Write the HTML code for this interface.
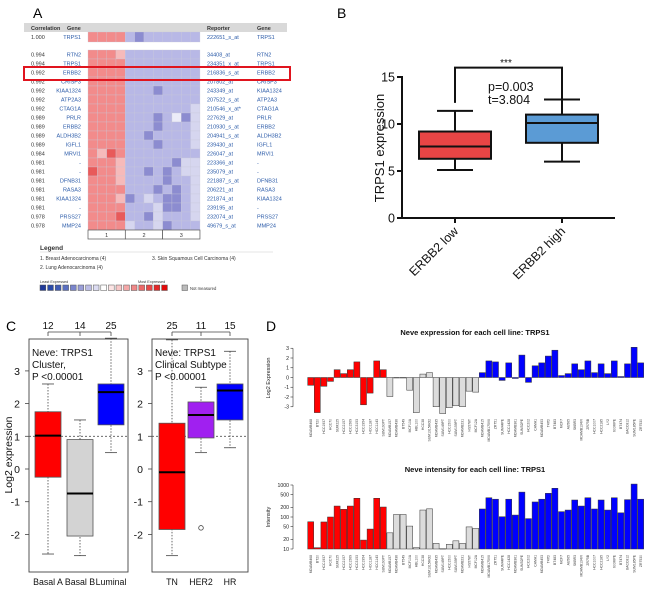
<!DOCTYPE html>
<html><head><meta charset="utf-8"><style>
body{margin:0;background:#fff}
svg{display:block;font-family:"Liberation Sans",Arial,sans-serif}
</style></head><body>
<svg id="fig" width="650" height="591" viewBox="0 0 650 591">
<rect x="0" y="0" width="650" height="591" fill="#fff"/>
<text x="33" y="18" font-size="14">A</text>
<text x="337" y="18" font-size="14">B</text>
<text x="6" y="331" font-size="14">C</text>
<text x="266" y="331" font-size="14">D</text>
<g id="pa"></g>
<g id="pb"></g>
<g id="pc"></g>
<g id="pd"></g>
</svg>
<script>
// ---------- Panel A data ----------
const aCorr=["0.994","0.994","0.992","0.992","0.992","0.992","0.992","0.989","0.989","0.989","0.989","0.984","0.981","0.981","0.981","0.981","0.981","0.981","0.978","0.978"];
const aGenes=["RTN2","TRPS1","ERBB2","CRISP3","KIAA1324","ATP2A3","CTAG1A","PRLR","ERBB2","ALDH3B2","IGFL1","MRVI1","-","-","DFNB31","RASA3","KIAA1324","-","PRSS27","MMP24"];
const aReporters=["34408_at","234351_x_at","216836_s_at","207802_at","243349_at","207522_s_at","210546_x_at*","227629_at","210930_s_at","204941_s_at","239430_at","226047_at","223366_at","235079_at","221887_s_at","206221_at","221874_at","239195_at","232074_at","49679_s_at"];
const aHeat=["RRRrbbbbbbbb","RRRRbbbbbbbb","RRRRbbbbbbbb","RRRRbbbbbbbb","RRRRbbbBbbbb","RRRRbbbbbbbb","RRRRbbbbbbbl","RRRRbbbBbwBl","RRRRbbbBbbbl","RRRRbbBbbbbl","RRRRbbbBbbbl","RrDRbbbbbbbb","RRRrbbbbbBll","DRRrbbBbBbll","RRRrbbbbBbbl","RRRRbbbBbBbl","RRRrBblbBBbl","RRRRbbblBBbl","RRRDbbBlbbbl","RRRRlbblBbbb"];
const aTopHeat="RRRRbBbbbbbb";
// ---------- Panel B data ----------
const bGroups=["ERBB2 low","ERBB2 high"];
const bMin=[5.1,6.0], bQ1=[6.3,8.0], bMed=[7.6,10.1], bQ3=[9.2,11.0], bMax=[11.4,12.6];
const bTicks=[0,5,10,15];
// ---------- Panel C data ----------
const cGroupsL=["Basal A","Basal B","Luminal"], cCountsL=[12,14,25];
const cMinL=[-2.6,-2.65,0.5], cQ1L=[-0.25,-2.05,1.35], cMedL=[1.02,-0.75,2.35], cQ3L=[1.75,0.9,2.6], cMaxL=[2.6,1.5,4.0];
const cGroupsR=["TN","HER2","HR"], cCountsR=[25,11,15];
const cMinR=[-2.65,0.5,0.65], cQ1R=[-1.85,0.95,1.5], cMedR=[-0.1,1.65,2.4], cQ3R=[1.4,2.05,2.6], cMaxR=[3.95,2.5,3.6];
const cOutR=[[],[-1.8],[]];
const cTicks=[-2,-1,0,1,2,3];
// ---------- Panel D data ----------
const dNames=["MDAMB468","BT20","HCC1937","HCC70","SUM225","HCC2157","HCC1569","HCC3153","HCC1954","HCC1187","HCC1143","SUM190PT","MDAMB157","MDAMB436","BT549","MCF10A","HBL100","HCC38","SUM1315MO2","MDAMB435","SUM149PT","HCC1500","SUM159PT","MDAMB231","HS578T","MCF12A","MDAMB415","MDAMB175VII","ZR751","SUM44PE","HCC1428","MDAMB361","SUM52PE","HCC202","CAMA1","MDAMB453","T47D","BT483","MCF7","AU565","SKBR3","MDAMB134VI","ZR75B","HCC1007","HCC2185","LY2","600MPE","BT474","UACC812","SUM185PE","ZR7530"];
const dGroup=[0,0,0,0,0,0,0,0,0,0,0,0,1,1,1,1,1,1,1,1,1,1,1,1,1,1,2,2,2,2,2,2,2,2,2,2,2,2,2,2,2,2,2,2,2,2,2,2,2,2,2];
const dExpr=[-0.8,-3.6,-0.9,-0.4,0.8,0.4,0.8,1.6,-2.8,-1.6,1.7,0.8,-1.95,-0.05,-0.05,-1.3,-3.6,0.35,0.5,-3.0,-3.7,-3.1,-2.9,-3.0,-1.4,-1.5,0.5,1.7,1.6,-0.3,1.5,-0.1,2.3,-0.5,1.2,1.5,2.2,2.8,0.2,0.4,1.4,0.8,1.7,0.5,1.4,0.4,1.7,0.1,1.4,3.1,1.5];
const dIntensity=[71,11,70,100,220,174,220,385,19,42,385,205,32,120,120,52,11,165,180,15,10.2,14,18,15,49,44,178,400,360,102,360,115,600,89,295,360,550,790,147,165,340,220,400,178,340,165,400,135,349,1070,360];
const dExprTicks=[3,2,1,0,-1,-2,-3];
const dIntTicks=[1000,500,200,100,50,20,10];

const NS="http://www.w3.org/2000/svg";
function mk(parent,tag,attrs,txt){const e=document.createElementNS(NS,tag);for(const k in attrs)e.setAttribute(k,attrs[k]);if(txt!==undefined)e.textContent=txt;parent.appendChild(e);return e;}

// ================= Panel A =================
const pa=document.getElementById('pa');
const heatCol={R:"#f28b8b",r:"#f6baba",D:"#e85a5a",b:"#b8b8e6",B:"#8c8cd0",l:"#d6d6ef",w:"#ececf8"};
const hx0=88, hcw=9.33, rowY0=50, rowH=9;
let e;
e=mk(pa,'rect',{x:24,y:23,width:263,height:9,fill:"#d9d9d9"});


[["Correlation",31,"start"],["Gene",67,"start"],["Reporter",207,"start"],["Gene",257,"start"]].forEach(h=>{
  e=mk(pa,'text',{x:h[1],y:30,"font-size":5.5,"font-weight":"bold",fill:"#333"},h[0]);
  
  
});
e=mk(pa,'text',{x:31,y:39,"font-size":5.5,fill:"#333"},"1.000");


e=mk(pa,'text',{x:81,y:39,"font-size":5.5,fill:"#2a5aa8","text-anchor":"end"},"TRPS1");


e=mk(pa,'text',{x:207,y:39,"font-size":5.5,fill:"#2a5aa8"},"222651_s_at");


e=mk(pa,'text',{x:257,y:39,"font-size":5.5,fill:"#2a5aa8"},"TRPS1");


for(let c=0;c<aTopHeat.length;c++){
  e=mk(pa,'rect',{x:hx0+c*hcw,y:32,width:hcw,height:10,fill:heatCol[aTopHeat[c]],stroke:"#c8c8d8","stroke-width":0.3});
  
  
}
for(let r=0;r<aGenes.length;r++){
  const cy=rowY0+rowH*r+rowH/2+2;
  for(let c=0;c<aHeat[r].length;c++){
    e=mk(pa,'rect',{x:hx0+c*hcw,y:rowY0+rowH*r,width:hcw,height:rowH,fill:heatCol[aHeat[r][c]],stroke:"#c8c8d8","stroke-width":0.3});
    
    
  }
  e=mk(pa,'text',{x:31,y:cy,"font-size":5.5,fill:"#333"},aCorr[r]);
  
  
  e=mk(pa,'text',{x:81,y:cy,"font-size":5.5,fill:"#2a5aa8","text-anchor":"end"},aGenes[r]);
  
  
  e=mk(pa,'text',{x:207,y:cy,"font-size":5.5,fill:"#2a5aa8"},aReporters[r]);
  
  
  e=mk(pa,'text',{x:257,y:cy,"font-size":5.5,fill:"#2a5aa8"},aGenes[r]);
  
  
}
e=mk(pa,'rect',{x:24,y:67,width:266,height:13,fill:"none",stroke:"#e0141e","stroke-width":2});


["1","2","3"].forEach((g,i)=>{
  e=mk(pa,'rect',{x:hx0+i*4*hcw,y:230,width:4*hcw,height:9,fill:"#fff",stroke:"#555","stroke-width":0.7});
  
  
  e=mk(pa,'text',{x:hx0+i*4*hcw+2*hcw,y:237,"font-size":5.5,"text-anchor":"middle",fill:"#333"},g);
  
  
});
e=mk(pa,'text',{x:40,y:250,"font-size":6.5,"font-weight":"bold",fill:"#333"},"Legend");


e=mk(pa,'line',{x1:40,y1:252,x2:273,y2:252,stroke:"#ddd","stroke-width":0.8});


[["1. Breast Adenocarcinoma (4)",40,260],["3. Skin Squamous Cell Carcinoma (4)",152,260],["2. Lung Adenocarcinoma (4)",40,269]].forEach(l=>{
  e=mk(pa,'text',{x:l[1],y:l[2],"font-size":5,fill:"#333"},l[0]);
  
  
});
e=mk(pa,'text',{x:40,y:283,"font-size":3.8,fill:"#333"},"Least Expressed");


e=mk(pa,'text',{x:138,y:283,"font-size":3.8,fill:"#333"},"Most Expressed");


const swatches=["#1f3a9a","#2a4aa8","#3f5bb5","#5a6fc0","#7a85cc","#9a9ed8","#bcbde6","#dcdcf2","#fff","#fce4e4","#f8c8c8","#f4a8a8","#f08888","#ec6868","#e84848","#e42828","#e00808"];
swatches.forEach((s,i)=>{
  e=mk(pa,'rect',{x:40+i*7.6,y:285,width:5.8,height:5.5,fill:s,stroke:"#555","stroke-width":0.5});
  
  
});
e=mk(pa,'rect',{x:182,y:285,width:5.5,height:5.5,fill:"#bbb",stroke:"#555","stroke-width":0.5});


e=mk(pa,'text',{x:190,y:290,"font-size":4.2,fill:"#333"},"Not measured");



// ================= Panel B =================
const pb=document.getElementById('pb');
const bY0=218, bScale=141/15, bAxisX=402, bAxisX2=615, bCenters=[455,562], bHalfW=36;
const yB=v=>bY0-v*bScale;
e=mk(pb,'line',{x1:bAxisX,y1:yB(15)-1,x2:bAxisX,y2:bY0,stroke:"#111","stroke-width":2});


e=mk(pb,'line',{x1:bAxisX,y1:bY0,x2:bAxisX2,y2:bY0,stroke:"#111","stroke-width":2});


bTicks.forEach(t=>{
  e=mk(pb,'line',{x1:bAxisX-5,y1:yB(t),x2:bAxisX,y2:yB(t),stroke:"#111","stroke-width":2});
  
  
  e=mk(pb,'text',{x:bAxisX-7,y:yB(t)+4.5,"font-size":12.5,"text-anchor":"end",fill:"#111"},String(t));
  
  
});
e=mk(pb,'text',{x:0,y:0,"font-size":13,"text-anchor":"middle",fill:"#111",transform:"translate(384,148) rotate(-90)"},"TRPS1 expression");


const bFill=["#e84545","#5b9bd5"];
bGroups.forEach((g,i)=>{
  const cx=bCenters[i];
  e=mk(pb,'line',{x1:cx,y1:bY0,x2:cx,y2:bY0+5,stroke:"#111","stroke-width":2});
  
  
  e=mk(pb,'line',{x1:cx,y1:yB(bMax[i]),x2:cx,y2:yB(bMin[i]),stroke:"#111","stroke-width":2});
  
  
  [bMax[i],bMin[i]].forEach(v=>{
    e=mk(pb,'line',{x1:cx-18,y1:yB(v),x2:cx+18,y2:yB(v),stroke:"#111","stroke-width":2});
    
    
  });
  e=mk(pb,'rect',{x:cx-bHalfW,y:yB(bQ3[i]),width:2*bHalfW,height:yB(bQ1[i])-yB(bQ3[i]),fill:bFill[i],stroke:"#111","stroke-width":2});
  
  
  e=mk(pb,'line',{x1:cx-bHalfW,y1:yB(bMed[i]),x2:cx+bHalfW,y2:yB(bMed[i]),stroke:"#111","stroke-width":2});
  
  
  e=mk(pb,'text',{x:0,y:0,"font-size":12.5,"text-anchor":"end",fill:"#111",transform:`translate(${cx+4},${bY0+14}) rotate(-45)`},g);
  
  
});
e=mk(pb,'path',{d:`M${bCenters[0]},${yB(11.4)-8} V${yB(16)} H${bCenters[1]} V${yB(12.6)-1}`,fill:"none",stroke:"#111","stroke-width":2});


e=mk(pb,'text',{x:506,y:66,"font-size":10,"text-anchor":"middle",fill:"#111"},"***");


e=mk(pb,'text',{x:488,y:91,"font-size":12.5,fill:"#111"},"p=0.003");


e=mk(pb,'text',{x:488,y:104,"font-size":12.5,fill:"#111"},"t=3.804");



// ================= Panel C =================
const pc=document.getElementById('pc');
const cY0=469, cScale=32.7;
const yC=v=>cY0-v*cScale;
function drawCPanel(x0,x1,centers,groups,counts,mn,q1,md,q3,mx,fills,outs,texts,pfx){
  e=mk(pc,'rect',{x:x0,y:339,width:x1-x0,height:233,fill:"none",stroke:"#444","stroke-width":0.9});
  
  
  e=mk(pc,'line',{x1:x0,y1:yC(1),x2:x1,y2:yC(1),stroke:"#555","stroke-width":0.8,"stroke-dasharray":"2,2"});
  
  
  e=mk(pc,'line',{x1:centers[0],y1:332,x2:centers[2],y2:332,stroke:"#444","stroke-width":0.8});
  
  
  cTicks.forEach(t=>{
    e=mk(pc,'line',{x1:x0-4,y1:yC(t),x2:x0,y2:yC(t),stroke:"#444","stroke-width":0.8});
    
    
    e=mk(pc,'text',{x:x0-9,y:yC(t)+4,"font-size":10.5,"text-anchor":"end",fill:"#111"},String(t));
    
    
  });
  groups.forEach((g,i)=>{
    const cx=centers[i], hw=13;
    e=mk(pc,'line',{x1:cx,y1:332,x2:cx,y2:336,stroke:"#444","stroke-width":0.8});
    
    
    e=mk(pc,'text',{x:cx,y:329,"font-size":10,"text-anchor":"middle",fill:"#111"},String(counts[i]));
    
    
    e=mk(pc,'line',{x1:cx,y1:yC(mx[i]),x2:cx,y2:yC(mn[i]),stroke:"#444","stroke-width":0.8,"stroke-dasharray":"1.5,1.5"});
    
    
    [mx[i],mn[i]].forEach(v=>{
      e=mk(pc,'line',{x1:cx-6,y1:yC(v),x2:cx+6,y2:yC(v),stroke:"#444","stroke-width":0.8});
      
      
    });
    e=mk(pc,'rect',{x:cx-hw,y:yC(q3[i]),width:2*hw,height:yC(q1[i])-yC(q3[i]),fill:fills[i],stroke:"#555","stroke-width":0.8});
    
    
    e=mk(pc,'line',{x1:cx-hw,y1:yC(md[i]),x2:cx+hw,y2:yC(md[i]),stroke:"#000","stroke-width":2});
    
    
    outs[i].forEach(v=>{
      e=mk(pc,'circle',{cx:cx,cy:yC(v),r:2.3,fill:"none",stroke:"#444","stroke-width":0.8});
      
      
    });
    e=mk(pc,'text',{x:cx,y:585,"font-size":8.8,"text-anchor":"middle",fill:"#111"},g);
    
    
  });
  texts.forEach((t,k)=>{
    e=mk(pc,'text',{x:x0+3,y:356+k*12,"font-size":10,fill:"#111"},t);
    
    
  });
}
drawCPanel(29,128,[48,80,111],cGroupsL,cCountsL,cMinL,cQ1L,cMedL,cQ3L,cMaxL,["#ff0000","#d3d3d3","#0000ff"],[[],[],[]],["Neve: TRPS1","Cluster,","P <0.00001"],"c-cluster");
drawCPanel(152,248,[172,201,230],cGroupsR,cCountsR,cMinR,cQ1R,cMedR,cQ3R,cMaxR,["#ff0000","#a020f0","#0000ff"],cOutR,["Neve: TRPS1","Clinical Subtype","P <0.00001"],"c-subtype");
e=mk(pc,'text',{x:0,y:0,"font-size":10.5,"text-anchor":"middle",fill:"#111",transform:"translate(12,455) rotate(-90)"},"Log2 expression");



// ================= Panel D =================
const pd=document.getElementById('pd');
const dX0=307.7, dStep=6.6, dBarW=6.0, dAxisX=293;
const xD=i=>dX0+i*dStep;
const dE0=377.5, dEScale=9.75;
const yE=v=>dE0-v*dEScale;
const dI10=549, dIDec=32;
const yI=v=>dI10-dIDec*Math.log10(v/10);
const dFill=["#ff0000","#dcdcdc","#0000ff"];
e=mk(pd,'text',{x:475,y:335,"font-size":7.5,"font-weight":"bold","text-anchor":"middle",fill:"#111"},"Neve  expression for each cell line: TRPS1");


e=mk(pd,'text',{x:475,y:472,"font-size":7.5,"font-weight":"bold","text-anchor":"middle",fill:"#111"},"Neve  intensity for each cell line: TRPS1");


e=mk(pd,'text',{x:0,y:0,"font-size":5.5,"text-anchor":"middle",fill:"#222",transform:"translate(270,378) rotate(-90)"},"Log2 Expression");


e=mk(pd,'text',{x:0,y:0,"font-size":5.5,"text-anchor":"middle",fill:"#222",transform:"translate(270,517) rotate(-90)"},"Intensity");


e=mk(pd,'line',{x1:dAxisX,y1:yE(3),x2:dAxisX,y2:yE(-3),stroke:"#333","stroke-width":0.6});


dExprTicks.forEach(t=>{
  e=mk(pd,'line',{x1:dAxisX-2.5,y1:yE(t),x2:dAxisX,y2:yE(t),stroke:"#333","stroke-width":0.6});
  
  
  e=mk(pd,'text',{x:dAxisX-4,y:yE(t)+1.8,"font-size":5.2,"text-anchor":"end",fill:"#222"},String(t));
  
  
});
e=mk(pd,'line',{x1:dAxisX,y1:yI(1000),x2:dAxisX,y2:yI(10),stroke:"#333","stroke-width":0.6});


dIntTicks.forEach(t=>{
  e=mk(pd,'line',{x1:dAxisX-2.5,y1:yI(t),x2:dAxisX,y2:yI(t),stroke:"#333","stroke-width":0.6});
  
  
  e=mk(pd,'text',{x:dAxisX-4,y:yI(t)+1.8,"font-size":5.2,"text-anchor":"end",fill:"#222"},String(t));
  
  
});
dNames.forEach((n,i)=>{
  const x=xD(i), v=dExpr[i];
  const y1=Math.min(yE(v),dE0), h=Math.max(Math.abs(yE(v)-dE0),0.4);
  e=mk(pd,'rect',{x:x,y:y1,width:dBarW,height:h,fill:dFill[dGroup[i]],stroke:"#333","stroke-width":0.5});
  
  
  const yt=yI(dIntensity[i]);
  e=mk(pd,'rect',{x:x,y:yt,width:dBarW,height:Math.max(dI10-yt,0.4),fill:dFill[dGroup[i]],stroke:"#333","stroke-width":0.5});
  
  
  e=mk(pd,'text',{x:0,y:0,"font-size":3.4,"text-anchor":"end",fill:"#444",transform:`translate(${x+dBarW/2+1.2},419) rotate(-90)`},n);
  
  
  e=mk(pd,'text',{x:0,y:0,"font-size":3.4,"text-anchor":"end",fill:"#444",transform:`translate(${x+dBarW/2+1.2},555) rotate(-90)`},n);
  
  
});
</script>
</body></html>
